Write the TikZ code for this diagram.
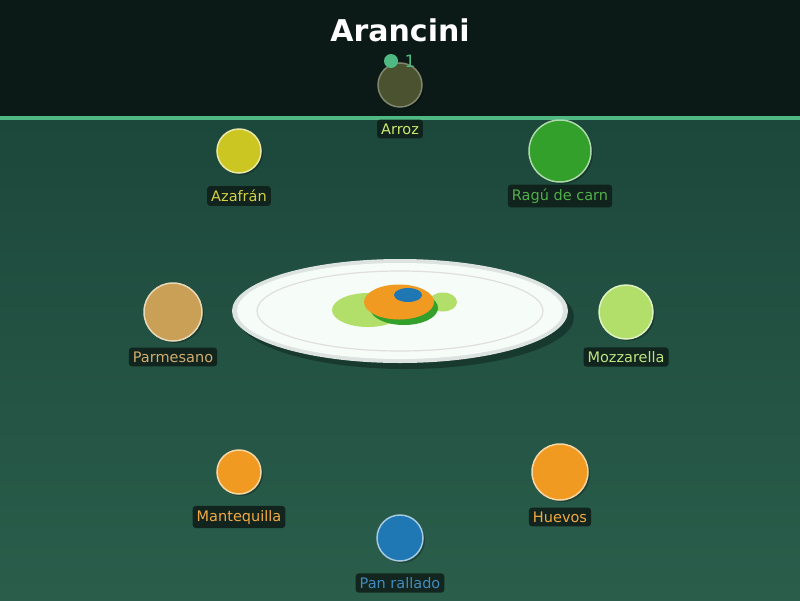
\documentclass[tikz,border=0pt]{standalone}
\usepackage{fontspec}
\setmainfont{DejaVu Sans}
\usetikzlibrary{shapes.geometric}
\definecolor{hdr}{HTML}{0B1A17}
\definecolor{bgtop}{HTML}{1C473B}
\definecolor{bgbot}{HTML}{2A5E4B}
\definecolor{accent}{HTML}{4FB883}
\definecolor{lblbg}{HTML}{0E1C17}
\definecolor{cyel}{HTML}{CCC623}
\definecolor{cgrn}{HTML}{33A02C}
\definecolor{ctan}{HTML}{C9A055}
\definecolor{clim}{HTML}{B2DF6A}
\definecolor{cora}{HTML}{F09A22}
\definecolor{cblu}{HTML}{1F78B4}
\definecolor{colv}{HTML}{4A5230}
\definecolor{platein}{HTML}{F6FCF8}
\definecolor{platerim}{HTML}{DDE3E1}
\tikzset{
  x=1pt,y=-1pt,
  ing/.style={circle,draw=#1!40!white,line width=1.5pt,fill=#1,inner sep=0pt},
  lbl/.style={fill=lblbg,fill opacity=0.85,text opacity=1,rounded corners=3pt,inner xsep=4pt,inner ysep=4pt,font=\fontsize{14.5}{15}\selectfont,text=#1!85!white},
}
\newcommand{\ingr}[6]{% name,x,y,r,color,label
  \fill[black,opacity=0.25] (#2+2,#3+2) circle (#4);
  \node[ing=#5,minimum size=2*#4] (#1) at (#2,#3) {};
  \node[lbl=#5,anchor=center] (#1l) at (#2,#3+45) {#6};
}
\begin{document}
\begin{tikzpicture}
\useasboundingbox (0,0) rectangle (800,600);
\shade[top color=bgtop,bottom color=bgbot] (0,116) rectangle (800,600);
\fill[hdr] (0,0) rectangle (800,116);
\fill[accent] (0,116) rectangle (800,120);
\node[text=white,font=\bfseries\fontsize{30}{32}\selectfont] (title) at (400,30) {Arancini};
% plate
\fill[black,opacity=0.3] (406,317) ellipse (168 and 52);
\node[ellipse,fill=platerim,minimum width=336,minimum height=104,inner sep=0pt] (plate) at (400,311) {};
\fill[platein] (400,311) ellipse (163 and 48);
\draw[gray!25,line width=1.2pt] (400,311) ellipse (143 and 40);
% food
\fill[clim] (368,310) ellipse (36 and 17);
\fill[clim] (443,302) ellipse (14 and 9.5);
\fill[cgrn] (404,308) ellipse (34 and 17);
\fill[cora] (399,302) ellipse (35 and 17.5);
\fill[cblu] (408,295) ellipse (14 and 7);
% ingredients
\fill[black,opacity=0.2] (402,87) circle (22);
\node[circle,fill=colv,draw=colv!70!white,line width=1.5pt,minimum size=44,inner sep=0pt] (arroz) at (400,85) {};
\node[lbl=clim!80!yellow,anchor=center] (arrozl) at (400,129) {Arroz};
% legend
\fill[accent] (391,61) circle (7);
\node[text=accent,font=\fontsize{17}{18}\selectfont] (leg) at (410,61) {1};
\ingr{azafran}{239}{151}{22}{cyel}{Azafrán}
\ingr{ragu}{560}{151}{31}{cgrn}{Ragú de carn}
\ingr{parm}{173}{312}{29}{ctan}{Parmesano}
\ingr{mozz}{626}{312}{27}{clim}{Mozzarella}
\ingr{mant}{239}{472}{22}{cora}{Mantequilla}
\ingr{huev}{560}{472}{28}{cora}{Huevos}
\ingr{pan}{400}{538}{23}{cblu}{Pan rallado}
\end{tikzpicture}
\end{document}
